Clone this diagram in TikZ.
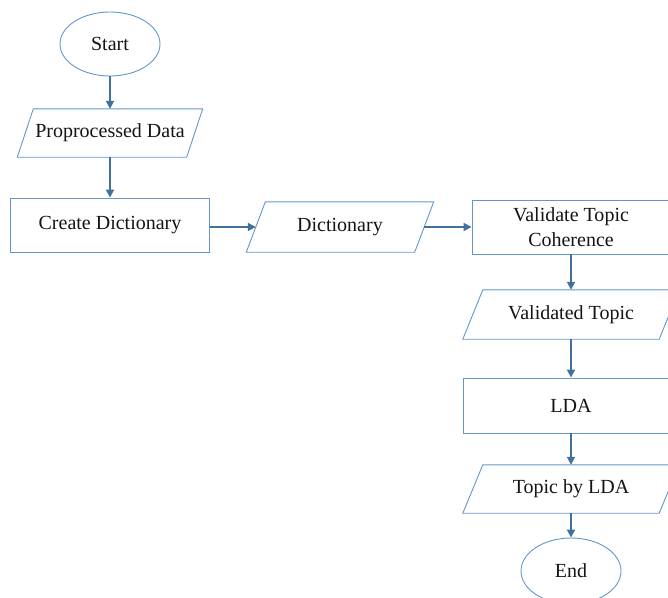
\documentclass[tikz,border=0pt]{standalone}
\usepackage{fontspec}
\setmainfont{Liberation Serif}
\usetikzlibrary{arrows.meta,calc,shapes.geometric}
\definecolor{shapeblue}{RGB}{100,150,205}
\definecolor{arrowblue}{RGB}{65,113,156}
\definecolor{txt}{RGB}{20,20,20}
\tikzset{
  x=1pt,y=-1pt,
  base/.style={font=\fontsize{20}{25}\selectfont, text=txt, align=center, inner sep=0pt},
  oval/.style={base, ellipse, draw=shapeblue, line width=0.9pt, minimum width=100pt, minimum height=64pt},
  procbox/.style={base, rectangle, draw=shapeblue, line width=0.9pt},
  databox/.style={base, rectangle, draw=none},
  paraline/.style={draw=shapeblue, line width=0.9pt},
  flow/.style={draw=arrowblue, line width=1.8pt, -{Triangle[length=8pt,width=8pt]}}
}
\newcommand\paradraw[2]{% node name, half slant
  \draw[paraline] ($(#1.north west)+(#2,0)$) -- ($(#1.north east)+(#2,0)$) --
    ($(#1.south east)+(-#2,0)$) -- ($(#1.south west)+(-#2,0)$) -- cycle;}
\begin{document}
\begin{tikzpicture}
\useasboundingbox (0,0) rectangle (668,597);
\clip (0,0) rectangle (668,597);
\node[oval] (start) at (110,44) {Start};
\node[databox, minimum width=169pt, minimum height=48pt] (pd) at (110,133) {Proprocessed Data};
\paradraw{pd}{8}
\node[procbox, minimum width=199pt, minimum height=54pt] (cd) at (110,225) {Create Dictionary};
\node[databox, minimum width=168pt, minimum height=50pt] (dict) at (340,227) {Dictionary};
\paradraw{dict}{9.5}
\node[procbox, minimum width=198pt, minimum height=54pt] (vtc) at (571,227) {Validate Topic\\Coherence};
\node[databox, minimum width=196pt, minimum height=49pt] (vt) at (571,314.5) {Validated Topic};
\paradraw{vt}{10}
\node[procbox, minimum width=216pt, minimum height=55pt] (lda) at (571,405.5) {LDA};
\node[databox, minimum width=196pt, minimum height=48pt] (tbl) at (571,489) {Topic by LDA};
\paradraw{tbl}{10}
\node[oval, minimum height=66pt] (end) at (571,571) {End};
\draw[flow] (start) -- (pd);
\draw[flow] (pd) -- (cd);
\draw[flow] (cd.east |- dict.west) -- (dict.west);
\draw[flow] (dict) -- (vtc);
\draw[flow] (vtc) -- (vt);
\draw[flow] (vt) -- (lda);
\draw[flow] (lda) -- (tbl);
\draw[flow] (tbl) -- (end);
\end{tikzpicture}
\end{document}
